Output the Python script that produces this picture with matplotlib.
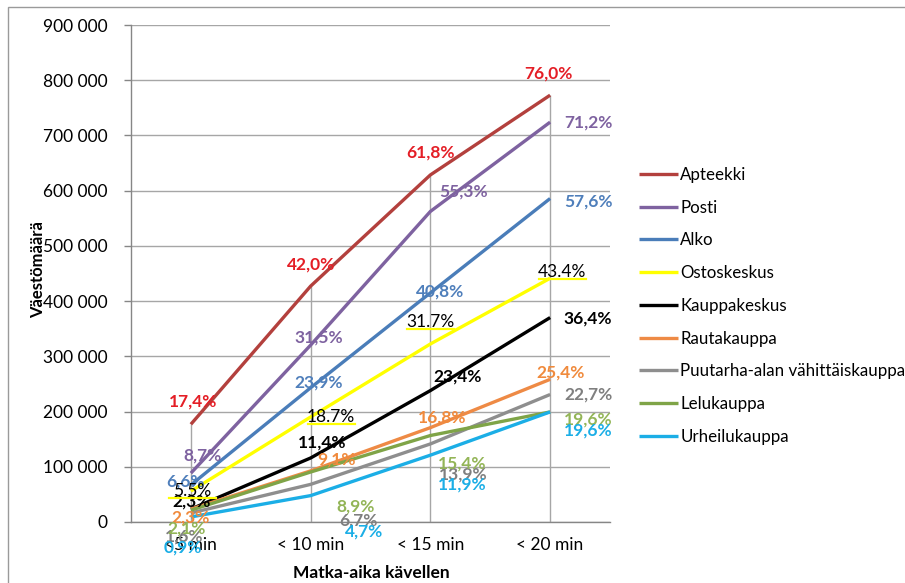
import matplotlib
matplotlib.use("Agg")
import matplotlib.pyplot as plt
from matplotlib.lines import Line2D
from matplotlib.patches import Rectangle
from matplotlib.ticker import FuncFormatter, MultipleLocator

plt.rcParams["font.family"] = ["Lato", "DejaVu Sans"]

# Walking-time categories
categories = ["<5 min", "< 10 min", "< 15 min", "< 20 min"]

# Total population used as the base for the percentage shares
total_population = 1_017_000

# Share of population (%) within walking distance, per service
apteekki = [17.4, 42.0, 61.8, 76.0]
posti = [8.7, 31.5, 55.3, 71.2]
alko = [6.6, 23.9, 40.8, 57.6]
ostoskeskus = [5.5, 18.7, 31.7, 43.4]
kauppakeskus = [2.3, 11.4, 23.4, 36.4]
rautakauppa = [2.3, 9.1, 16.8, 25.4]
puutarha = [1.6, 6.7, 13.9, 22.7]
lelukauppa = [2.1, 8.9, 15.4, 19.6]
urheilukauppa = [0.9, 4.7, 11.9, 19.6]

series_names = ["Apteekki", "Posti", "Alko", "Ostoskeskus", "Kauppakeskus",
                "Rautakauppa", "Puutarha-alan vähittäiskauppa", "Lelukauppa",
                "Urheilukauppa"]
series_pcts = [apteekki, posti, alko, ostoskeskus, kauppakeskus,
               rautakauppa, puutarha, lelukauppa, urheilukauppa]

# Styling: line colour, label colour, label weight, decimal separator
line_colors = ["#B3403D", "#7E62A0", "#4A7DB9", "#FFFF00", "#000000",
               "#EE8A45", "#8E8E8E", "#7FA447", "#1BAEE6"]
label_colors = ["#E41E26", "#7E62A0", "#4F7FBB", "#000000", "#000000",
                "#F08A3C", "#7F7F7F", "#93B557", "#1BAEE6"]
label_bold = [True, True, True, False, True, True, True, True, True]
decimal_sep = [",", ",", ",", ".", ",", ",", ",", ",", ","]

# Label offsets from each point, in pixels (right, up)
label_offsets = [
    [(2, 23), (0, 22), (0, 22), (-2, 22)],
    [(12, 18), (8, 8), (33, 20), (38, 0)],
    [(-5, 3), (8, 5), (10, 1), (38, -3)],
    [(1, 0), (20, 0), (0, 22), (12, 6)],
    [(1, 8), (12, 15), (27, 14), (38, -1)],
    [(0, -8), (26, 11), (12, 10), (10, 7)],
    [(-7, -24), (48, -36), (33, -31), (38, 0)],
    [(-4, -18), (45, -34), (32, -28), (38, -8)],
    [(-8, -31), (53, -36), (32, -29), (38, -19)],
]

W, H, DPI = 905, 583, 100
fig = plt.figure(figsize=(W / DPI, H / DPI), dpi=DPI)
fig.patch.set_facecolor("white")

# Outer chart frame
fig.patches.append(Rectangle((8 / W, -0.05), 1.0, 1 - 7 / H + 0.05,
                             transform=fig.transFigure, fill=False,
                             edgecolor="#9A9A9A", linewidth=1.0))

ax_left, ax_right, ax_top, ax_bottom = 131, 610, 25, 522
ax = fig.add_axes([ax_left / W, 1 - ax_bottom / H,
                   (ax_right - ax_left) / W, (ax_bottom - ax_top) / H])
x = list(range(len(categories)))

values = [[p / 100 * total_population for p in pcts] for pcts in series_pcts]

ax.set_xlim(-0.5, len(categories) - 0.5)
ax.set_ylim(0, 900_000)
ax.yaxis.set_major_locator(MultipleLocator(100_000))
ax.yaxis.set_major_formatter(FuncFormatter(lambda v, _: f"{int(v):,}".replace(",", " ")))
ax.grid(axis="y", color="#A6A6A6", linewidth=1.0)
ax.set_axisbelow(True)

# Drop lines from the highest series down to the axis
tops = [max(v[i] for v in values) for i in x]
ax.vlines(x, 0, tops, color="#A6A6A6", linewidth=1.0, zorder=1)

for name, vals, col in zip(series_names, values, line_colors):
    ax.plot(x, vals, color=col, linewidth=2.4, label=name,
            solid_capstyle="butt", zorder=3)

for spine in ["top", "right"]:
    ax.spines[spine].set_visible(False)
for spine in ["left", "bottom"]:
    ax.spines[spine].set_color("#868686")
    ax.spines[spine].set_linewidth(1.0)

ax.set_xticks(x)
ax.set_xticklabels(categories)
ax.tick_params(axis="x", length=0, pad=11, labelsize=12.5, colors="#000000")
ax.tick_params(axis="y", length=5, width=1, color="#868686", pad=12,
               labelsize=12.5, labelcolor="#000000")

ax.set_ylabel("Väestömäärä", fontsize=12, fontweight="bold", va="center")
ax.yaxis.set_label_coords((38 - ax_left) / (ax_right - ax_left),
                          (ax_bottom - 270) / (ax_bottom - ax_top))
ax.set_xlabel("Matka-aika kävellen", fontsize=12.5, fontweight="bold", va="center")
ax.xaxis.set_label_coords((371 - ax_left) / (ax_right - ax_left),
                          (ax_bottom - 573) / (ax_bottom - ax_top))

# Data labels
fig.canvas.draw()
for si, (pcts, vals) in enumerate(zip(series_pcts, values)):
    for i in x:
        dx, dy = label_offsets[si][i]
        txt = f"{pcts[i]:.1f}%".replace(".", decimal_sep[si])
        ax.annotate(txt, (i, vals[i]), xytext=(dx * 0.72, dy * 0.72),
                    textcoords="offset points", ha="center", va="center",
                    fontsize=12.5, color=label_colors[si],
                    fontweight="bold" if label_bold[si] else "normal",
                    zorder=5, annotation_clip=False)
        if si == 3:
            # yellow underline beneath these labels
            px, py = ax.transData.transform((i, vals[i]))
            cx, cy = px + dx, py + dy - 7
            fig.lines.append(Line2D([cx - 23, cx + 24], [cy, cy],
                                    transform=None, color="#FFFF00",
                                    linewidth=1.6, zorder=6))

leg = ax.legend(loc="upper left", bbox_to_anchor=(632 / W, 1 - 160 / H),
                bbox_transform=fig.transFigure, frameon=False, fontsize=12.2,
                handlelength=2.3, handletextpad=0.15, labelspacing=0.99,
                borderaxespad=0)
for line in leg.get_lines():
    line.set_linewidth(2.4)

fig.savefig("out.png", dpi=DPI, facecolor="white")
